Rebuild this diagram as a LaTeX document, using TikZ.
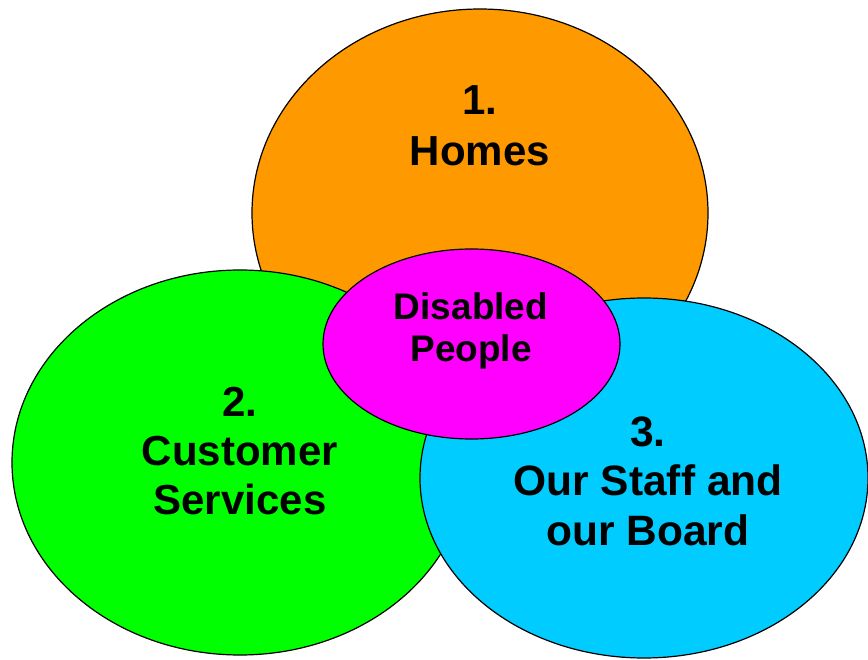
\documentclass[tikz,border=0pt]{standalone}
\usepackage{fontspec}
\setmainfont{Liberation Sans}
\definecolor{cOrange}{HTML}{FF9900}
\definecolor{cGreen}{HTML}{00FF00}
\definecolor{cCyan}{HTML}{00CCFF}
\definecolor{cMagenta}{HTML}{FF00FF}
\tikzset{
  blob/.style={draw=black, line width=1.2pt},
  lbl/.style={align=center, inner sep=0pt, font=\bfseries},
}
\begin{document}
\begin{tikzpicture}[x=1pt,y=-1pt]
\useasboundingbox (0,0) rectangle (868,660);
\fill[white] (0,0) rectangle (868,660);
\draw[blob, fill=cOrange] (480,213) ellipse [x radius=228, y radius=204];
\draw[blob, fill=cGreen] (240,462.5) ellipse [x radius=228, y radius=192.5];
\draw[blob, fill=cCyan] (644,478) ellipse [x radius=224, y radius=180];
\draw[blob, fill=cMagenta] (471.5,344) ellipse [x radius=148.5, y radius=95];
\node[lbl, font=\bfseries\fontsize{42}{51}\selectfont] (homes) at (480,125.5) {1.\\Homes};
\node[lbl, font=\bfseries\fontsize{42}{49}\selectfont] (cust) at (240,451.5) {2.\\Customer\\Services};
\node[lbl, font=\bfseries\fontsize{42.5}{49.5}\selectfont] (staff) at (648,481) {3.\\Our Staff and\\our Board};
\node[lbl, font=\bfseries\fontsize{37}{42}\selectfont] (dis) at (471,331) {Disabled\\People};
\end{tikzpicture}
\end{document}
